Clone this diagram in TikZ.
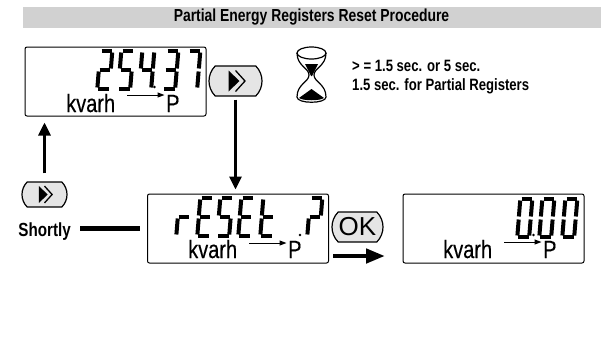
\documentclass[tikz,border=0pt]{standalone}
\usepackage{fontspec}
\setmainfont[FakeStretch=0.8]{Liberation Sans}
\usetikzlibrary{positioning}
\usetikzlibrary{arrows.meta}
\usetikzlibrary{shapes.misc}
\definecolor{bannergray}{gray}{0.82}
\definecolor{keygray}{gray}{0.9}
\tikzset{
	display/.style={draw, line width=1pt, rounded corners=2pt, minimum width=181pt, minimum height=69pt, inner sep=0pt},
	keycap/.style={draw, line width=1.2pt, fill=keygray, rounded rectangle, rounded rectangle arc length=90, inner sep=0pt},
	unitlabel/.style={anchor=base west, inner sep=0pt, font=\fontsize{25}{25}\selectfont\addfontfeature{FakeBold=0.3}},
	boldtext/.style={anchor=base west, inner sep=0pt, font=\bfseries\fontsize{16.4}{16.4}\selectfont},
	bigarrow/.style={line width=3pt, -{Triangle[length=13pt,width=12pt]}},
	unitarrow/.style={line width=1pt, shorten >=1.5pt, -{Triangle[length=7pt,width=5pt]}},
	segv/.style={line width=4pt},
	segh/.style={line width=3.2pt},
}
% seven segment pieces, one digit is 15 wide and 38 high
\newcommand{\segA}{\draw[segh] (4.5,0) -- (15,0);}
\newcommand{\segB}{\draw[segv] (15.2,1.5) -- (13.9,17.5);}
\newcommand{\segC}{\draw[segv] (13.6,20.5) -- (12.3,36.5);}
\newcommand{\segD}{\draw[segh] (1,38) -- (11.5,38);}
\newcommand{\segE}{\draw[segv] (1.7,20.5) -- (0.4,36.5);}
\newcommand{\segF}{\draw[segv] (3.2,1.5) -- (1.9,17.5);}
\newcommand{\segG}{\draw[segh] (2.5,19) -- (13,19);}
\newcommand{\segdigit}[3]{\begin{scope}[shift={(#1,#2)}]#3\end{scope}}
\newcommand{\keychevrons}[2]{\begin{scope}[shift={(#1)},scale=#2]
	\fill (-7,-10.5) -- (4,0) -- (-7,10.5) -- cycle;
	\draw[line width=1.3pt] (0,-10.5) -- (9.5,0) -- (0,10.5);
\end{scope}}
\begin{document}
\begin{tikzpicture}[x=1pt,y=-1pt]
	\useasboundingbox (0,0) rectangle (604,338);
	\node[fill=bannergray, minimum width=578pt, minimum height=21pt, inner sep=0pt] (banner) at (312,17.5) {};
	\node[inner sep=0pt, font=\bfseries\fontsize{17.4}{17.4}\selectfont] (title) at (311.5,17.5) {Partial Energy Registers Reset Procedure};

	\node[display] (dspTotal) at (115.5,81.5) {};
	\node[display] (dspReset) at (238,228.5) {};
	\node[display] (dspZero) at (493.5,228.5) {};

	\node[keycap, minimum width=53pt, minimum height=30pt] (keyNext) at (235.5,81) {};
	\node[keycap, minimum width=45pt, minimum height=25pt] (keyShort) at (44.5,194.5) {};
	\node[keycap, minimum width=51pt, minimum height=30pt, font=\fontsize{26}{26}\selectfont] (keyOk) at (357.5,227) {\addfontfeature{FakeStretch=1}OK};
	\keychevrons{keyNext.center}{1}
	\keychevrons{keyShort.center}{0.8}

	% total display
	\segdigit{97}{51}{\segA\segB\segG\segE\segD}
	\segdigit{118}{51}{\segA\segF\segG\segC\segD}
	\segdigit{139}{51}{\segF\segG\segB\segC}
	\segdigit{163}{51}{\segA\segB\segG\segC\segD}
	\segdigit{185}{51}{\segA\segB\segC}
	\fill (154.5,87) circle (1.4);
	% reset display
	\segdigit{176}{198}{\segE\segG}
	\segdigit{197}{198}{\segA\segF\segG\segE\segD}
	\segdigit{217}{198}{\segA\segF\segG\segC\segD}
	\segdigit{238}{198}{\segA\segF\segG\segE\segD}
	\segdigit{260}{198}{\segF\segG\segE\segD}
	\segdigit{307}{198}{\segA\segB\segG\segE}
	\fill (300,235) circle (1.4);
	% zero display
	\segdigit{517}{199}{\segA\segB\segC\segD\segE\segF}
	\segdigit{539}{199}{\segA\segB\segC\segD\segE\segF}
	\segdigit{562}{199}{\segA\segB\segC\segD\segE\segF}
	\fill (533.5,235) circle (1.4);

	\node[unitlabel] (kvarhTotal) at (66,112) {kvarh};
	\node[unitlabel] (pTotal) at (166,112) {P};
	\node[unitlabel] (kvarhReset) at (188,258) {kvarh};
	\node[unitlabel] (pReset) at (288,258) {P};
	\node[unitlabel] (kvarhZero) at (443,258) {kvarh};
	\node[unitlabel] (pZero) at (543,258) {P};
	\coordinate (arrTotal) at (127,95);
	\coordinate (arrReset) at (249,243);
	\coordinate (arrZero) at (504,242);
	\draw[unitarrow] (arrTotal) -- (arrTotal -| pTotal.west);
	\draw[unitarrow] (arrReset) -- (arrReset -| pReset.west);
	\draw[unitarrow] (arrZero) -- (arrZero -| pZero.west);

	\node[boldtext] (txtTime) at (352,71) {> = 1.5 sec. or 5 sec.};
	\node[boldtext] (txtPartial) at (352,90) {1.5 sec. for Partial Registers};
	\node[boldtext, anchor=base east, font=\bfseries\fontsize{19}{19}\selectfont] (txtShortly) at (71,236) {Shortly};

	\draw[bigarrow, shorten <=3pt, shorten >=4pt] (keyNext.south) -- (keyNext.south |- dspReset.north);
	\draw[bigarrow, shorten <=8pt, shorten >=6pt] (keyShort.north) -- (keyShort.north |- dspTotal.south);
	\draw[line width=4.5pt, shorten <=9pt, shorten >=7pt] (txtShortly.east |- dspReset.west) -- (dspReset.west);
	\coordinate (okStart) at (333,256);
	\coordinate (okEnd) at (385,256);
	\draw[line width=4.5pt, -{Triangle[length=19pt,width=14pt]}] (okStart) -- (okEnd);

	% hourglass
	\draw[line width=1.2pt] (311.5,53) ellipse (14.5 and 6);
	\draw[line width=1.2pt] (297,53) .. controls (297,66) and (309,68) .. (309,75) .. controls (309,82) and (297,84) .. (297,97) .. controls (297,104) and (326,104) .. (326,97) .. controls (326,84) and (314,82) .. (314,75) .. controls (314,68) and (326,66) .. (326,53);
	\fill (305,64) -- (318,64) -- (312,76) -- (311,76) -- cycle;
	\fill (299,98) -- (311.5,89) -- (324,98) .. controls (320,101) and (303,101) .. (299,98) -- cycle;
\end{tikzpicture}
\end{document}
